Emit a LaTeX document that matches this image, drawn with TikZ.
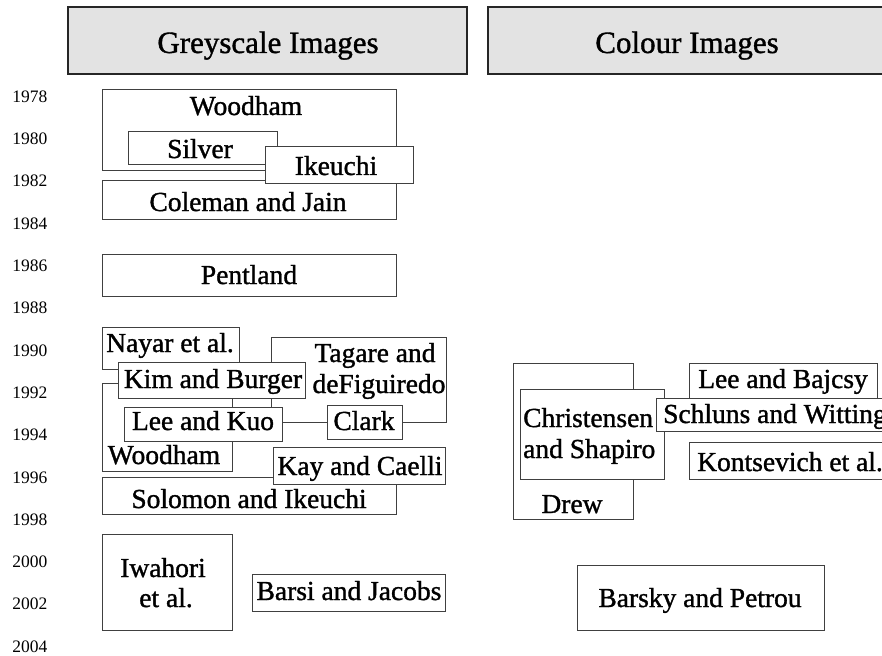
\documentclass[tikz,border=0pt]{standalone}
\usepackage{fontspec}
\setmainfont{Liberation Serif}
\newfontfamily\boxfont{Liberation Serif}[FakeBold=1.2]
\begin{document}
\begin{tikzpicture}[x=1pt,y=-1pt,
  paper/.style={draw=black!75, fill=white, line width=0.9pt},
  header/.style={draw=black!85, fill=black!11, line width=1.1pt},
  lbl/.style={inner sep=0pt, anchor=base, font=\boxfont\fontsize{27.5}{31}\selectfont},
  htitle/.style={inner sep=0pt, anchor=base, font=\boxfont\fontsize{31}{36}\selectfont},
  yr/.style={inner sep=0pt, anchor=base, font=\fontsize{17.5}{20}\selectfont}]
\useasboundingbox (0,0) rectangle (882,655);
\clip (0,0) rectangle (882,655);

% column headings
\draw[header] (68,7) rectangle (467,74);
\node[htitle] (grey) at (268,53) {Greyscale Images};
\draw[header] (488,7) rectangle (900,74);
\node[htitle] (colour) at (687,53) {Colour Images};

% time axis
\foreach \yy [count=\i from 0] in {1978,1980,...,2004}
  \node[yr] (y\yy) at (30,{102.3+42.3*\i}) {\yy};

% greyscale methods
\draw[paper] (102,89) rectangle (396,170);
\node[lbl] (woodhamA) at (246,115) {Woodham};
\draw[paper] (128,131) rectangle (277,164);
\node[lbl] (silver) at (200,158) {Silver};
\draw[paper] (102,180) rectangle (396,219);
\node[lbl] (coleman) at (248,211) {Coleman and Jain};
\draw[paper] (265,146) rectangle (413,183);
\node[lbl] (ikeuchi) at (336,175) {Ikeuchi};

\draw[paper] (102,254) rectangle (396,296);
\node[lbl] (pentland) at (249,284) {Pentland};

\draw[paper] (271,337) rectangle (446,422);
\node[lbl] (tagareA) at (375,362) {Tagare and};
\node[lbl] (tagareB) at (379,393) {deFiguiredo};
\draw[paper] (102,327) rectangle (239,369);
\node[lbl] (nayar) at (170,352) {Nayar et al.};
\draw[paper] (102,383) rectangle (232,471);
\node[lbl] (woodhamB) at (164,464) {Woodham};
\draw[paper] (118,362) rectangle (305,398);
\node[lbl] (kim) at (213,388) {Kim and Burger};
\draw[paper] (124,407) rectangle (282,441);
\node[lbl] (leekuo) at (203,430) {Lee and Kuo};
\draw[paper] (327,405) rectangle (402,439);
\node[lbl] (clark) at (364,430) {Clark};
\draw[paper] (102,477) rectangle (396,514);
\node[lbl] (solomon) at (249,508) {Solomon and Ikeuchi};
\draw[paper] (273,447) rectangle (445,484);
\node[lbl] (kay) at (360,475) {Kay and Caelli};

\draw[paper] (102,534) rectangle (232,630);
\node[lbl] (iwahoriA) at (163,577) {Iwahori};
\node[lbl] (iwahoriB) at (166,607) {et al.};
\draw[paper] (252,574) rectangle (445,611);
\node[lbl] (barsi) at (349,600) {Barsi and Jacobs};

% colour methods
\draw[paper] (513,363) rectangle (633,519);
\node[lbl] (drew) at (572,513) {Drew};
\draw[paper] (520,389) rectangle (664,479);
\node[lbl, anchor=base west] (chrA) at (523,427) {Christensen};
\node[lbl, anchor=base west] (chrB) at (523,458) {and Shapiro};
\draw[paper] (689,363) rectangle (877,399);
\node[lbl] (leebaj) at (783,388) {Lee and Bajcsy};
\draw[paper] (656,398) rectangle (900,431);
\node[lbl, anchor=base west] (schluns) at (663,423) {Schluns and Witting};
\draw[paper] (689,442) rectangle (900,479);
\node[lbl, anchor=base west] (kont) at (697,471) {Kontsevich et al.};

\draw[paper] (577,565) rectangle (824,630);
\node[lbl] (barsky) at (700,607) {Barsky and Petrou};
\end{tikzpicture}
\end{document}
